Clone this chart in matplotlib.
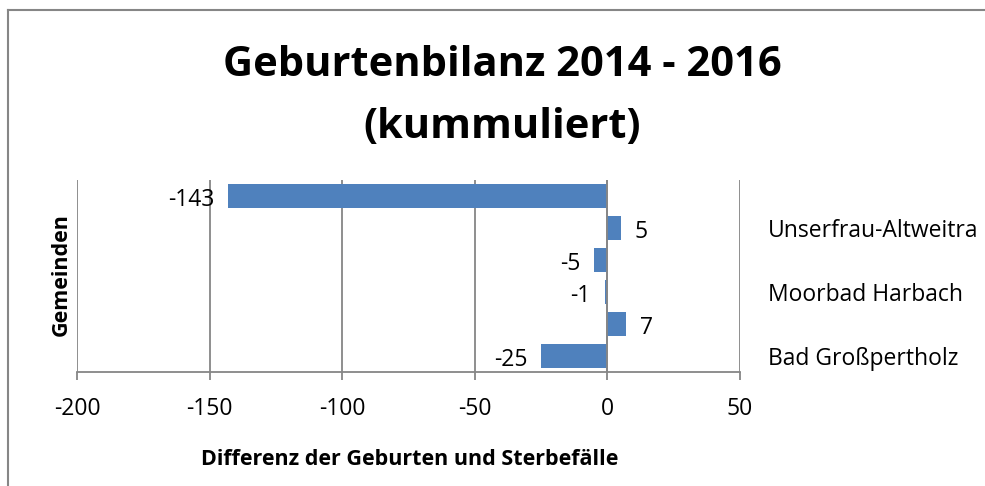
import matplotlib
matplotlib.use('Agg')
import matplotlib.pyplot as plt
from matplotlib.lines import Line2D

plt.rcParams['font.family'] = ['Open Sans', 'DejaVu Sans']

# Daten (von unten nach oben), Beschriftung nur bei jeder zweiten Gemeinde sichtbar
gemeinden = ['Bad Großpertholz', '', 'Moorbad Harbach', '', 'Unserfrau-Altweitra', '']
bilanz = [-25, 7, -1, -5, 5, -143]
x_ticks = [-200, -150, -100, -50, 0, 50]

W, H = 985, 486
fig = plt.figure(figsize=(W / 100, H / 100), dpi=100)


def px(x0, y0, x1, y1):  # Pixelbox -> Figurkoordinaten
    return [x0 / W, 1 - y1 / H, (x1 - x0) / W, (y1 - y0) / H]


ax = fig.add_axes(px(77, 180, 740, 372))
grau = '#868686'
bars = ax.barh(range(len(bilanz)), bilanz, height=0.75, color='#4F81BD', zorder=3)
ax.set_xlim(-200, 50)
ax.set_ylim(-0.5, len(bilanz) - 0.5)
ax.set_xticks(x_ticks)
ax.set_xticklabels([str(t) for t in x_ticks], fontsize=16.5)
ax.grid(axis='x', color=grau, linewidth=1.3, zorder=0)
ax.axvline(0, color=grau, linewidth=1.3, zorder=4)
for s in ['top', 'left', 'right']:
    ax.spines[s].set_visible(False)
ax.spines['bottom'].set_color(grau)
ax.spines['bottom'].set_linewidth(1.3)
ax.tick_params(axis='x', length=6, color=grau, width=1.3, pad=12)

ax.yaxis.tick_right()
ax.set_yticks(range(len(gemeinden)))
ax.set_yticklabels(gemeinden, fontsize=16.5)
ax.tick_params(axis='y', length=0, pad=20)

labels = ax.bar_label(bars, labels=[str(v) for v in bilanz], padding=10, fontsize=16.5)
for t in labels:  # etwas tiefer, wie im Original
    t.xyann = (t.xyann[0], -3)

ax.set_xlabel('Differenz der Geburten und Sterbefälle', fontsize=15.5,
              fontweight='bold')
ax.xaxis.set_label_coords((410 - 77) / 663, -(449 - 372) / 192)

fig.text(61 / W, 1 - 275 / H, 'Gemeinden', rotation=90, fontsize=15.5,
         fontweight='bold', ha='center', va='center')

fig.text(502 / W, 1 - 65 / H, 'Geburtenbilanz 2014 - 2016', fontsize=30,
         fontweight='bold', ha='center', va='center')
fig.text(502 / W, 1 - 128 / H, '(kummuliert)', fontsize=30,
         fontweight='bold', ha='center', va='center')

# Rahmen des Diagrammbereichs
fig.add_artist(Line2D([8 / W, 8 / W], [0, 1 - 10 / H], color=grau, linewidth=1.5))
fig.add_artist(Line2D([8 / W, 1], [1 - 10 / H, 1 - 10 / H], color=grau, linewidth=1.5))

fig.savefig('out.png', dpi=100)
